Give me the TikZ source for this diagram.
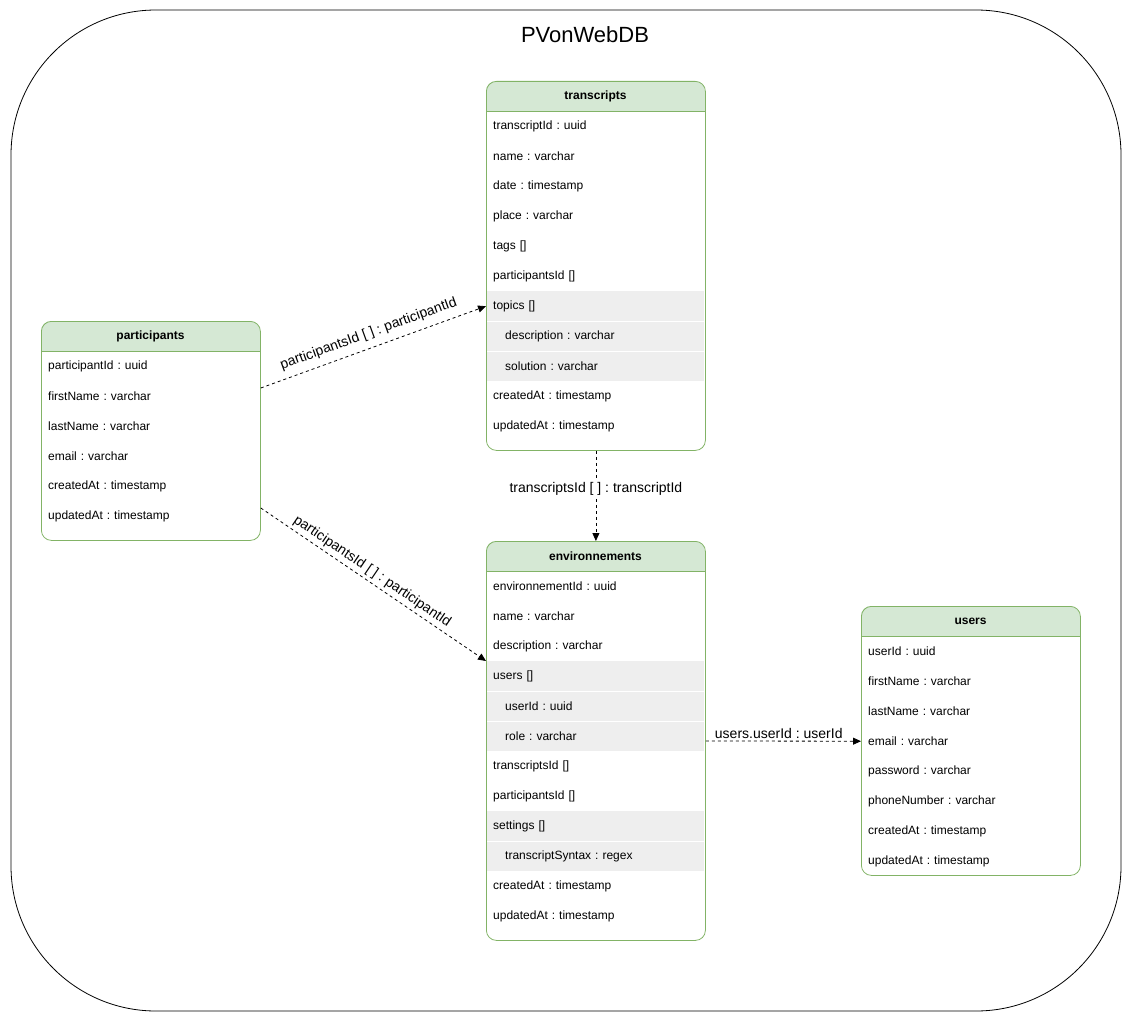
\documentclass[tikz,border=0pt]{standalone}
\usepackage{fontspec}
\setmainfont{Liberation Sans}
\usetikzlibrary{arrows.meta,calc}

\definecolor{hdrfill}{HTML}{D5E8D4}
\definecolor{hdrline}{HTML}{82B366}
\definecolor{rowgray}{HTML}{EEEEEE}

\tikzset{
  x=1pt, y=-1pt,
  tbl/.style={draw=hdrline, line width=0.8pt, rounded corners=10pt, minimum width=219pt, inner sep=0pt, anchor=north west},
  rowtxt/.style={anchor=north west, minimum width=219pt, minimum height=30pt, inner xsep=7pt, inner ysep=0pt, text width=205pt, align=left, font=\fontsize{12}{14}\selectfont},
  hdrtxt/.style={font=\bfseries\fontsize{12}{14}\selectfont},
  graybox/.style={fill=rowgray},
  sepline/.style={draw=white, line width=1pt},
  rel/.style={draw=black, line width=0.8pt, dash pattern=on 3pt off 3pt, -{Triangle[length=8pt,width=7pt]}},
  rellbl/.style={font=\fontsize{14}{16}\selectfont, inner sep=2pt},
  frame/.style={draw=black, line width=0.8pt, rounded corners=145pt},
}

% #1 name, #2 x, #3 y, #4 height, #5 title, #6 rows
\newcommand\ertable[6]{%
  \begin{scope}
    \clip[rounded corners=10pt] (#2,#3) rectangle ++(219,#4);
    \fill[hdrfill] (#2,#3) rectangle ++(219,30);
  \end{scope}
  \foreach \t [count=\i] in {#6} {
    \node[rowtxt] (#1-\i) at (#2,#3+30*\i) {\t};
  }
  \node[tbl, minimum height=#4pt] (#1) at (#2,#3) {};
  \draw[hdrline, line width=0.8pt] (#2,#3+30) -- ++(219,0);
  \node[hdrtxt] (#1-h) at (#2+109.5,#3+15) {#5};
}
\newcommand\ind{\hspace*{12pt}}

\begin{document}
\frenchspacing
\begin{tikzpicture}
\useasboundingbox (0,0) rectangle (1132,1022);

\draw[frame] (11,10) rectangle (1121,1011);
\node[font=\fontsize{22}{26}\selectfont] (title) at (585,35) {PVonWebDB};

% gray rows
\fill[graybox] (487,291) rectangle (704,381);
\draw[sepline] (487,321) -- (704,321) (487,351) -- (704,351);
\fill[graybox] (487,661) rectangle (704,751);
\draw[sepline] (487,691) -- (704,691) (487,721) -- (704,721);
\fill[graybox] (487,811) rectangle (704,871);
\draw[sepline] (487,841) -- (704,841);

\ertable{tr}{486}{81}{369}{transcripts}{transcriptId : uuid,name : varchar,date : timestamp,place : varchar,tags [],participantsId [],topics [],\ind description : varchar,\ind solution : varchar,createdAt : timestamp,updatedAt : timestamp}

\ertable{pt}{41}{321}{219}{participants}{participantId : uuid,firstName : varchar,lastName : varchar,email : varchar,createdAt : timestamp,updatedAt : timestamp}

\ertable{env}{486}{541}{399}{environnements}{environnementId : uuid,name : varchar,description : varchar,users [],\ind userId : uuid,\ind role : varchar,transcriptsId [],participantsId [],settings [],\ind transcriptSyntax : regex,createdAt : timestamp,updatedAt : timestamp}

\ertable{us}{861}{606}{269}{users}{userId : uuid,firstName : varchar,lastName : varchar,email : varchar,password : varchar,phoneNumber : varchar,createdAt : timestamp,updatedAt : timestamp}

% relations
\draw[rel] ($(pt.north east)+(0,67)$) -- node[rellbl, sloped, above=5pt, pos=0.5] {participantsId [ ] : participantId} (tr-7.west);
\draw[rel] ($(pt.north east)+(0,187)$) -- node[rellbl, sloped, above=1pt, pos=0.47] {participantsId [ ] : participantId} ($(env.north west)+(0,120)$);
\draw[rel] (tr.south) -- node[rellbl, fill=white, pos=0.42] {transcriptsId [ ] : transcriptId} (env.north);
\draw[rel] ($(env.north east)+(0,200)$) -- node[rellbl, above, pos=0.47] {users.userId : userId} (us-4.west);
\end{tikzpicture}
\end{document}
